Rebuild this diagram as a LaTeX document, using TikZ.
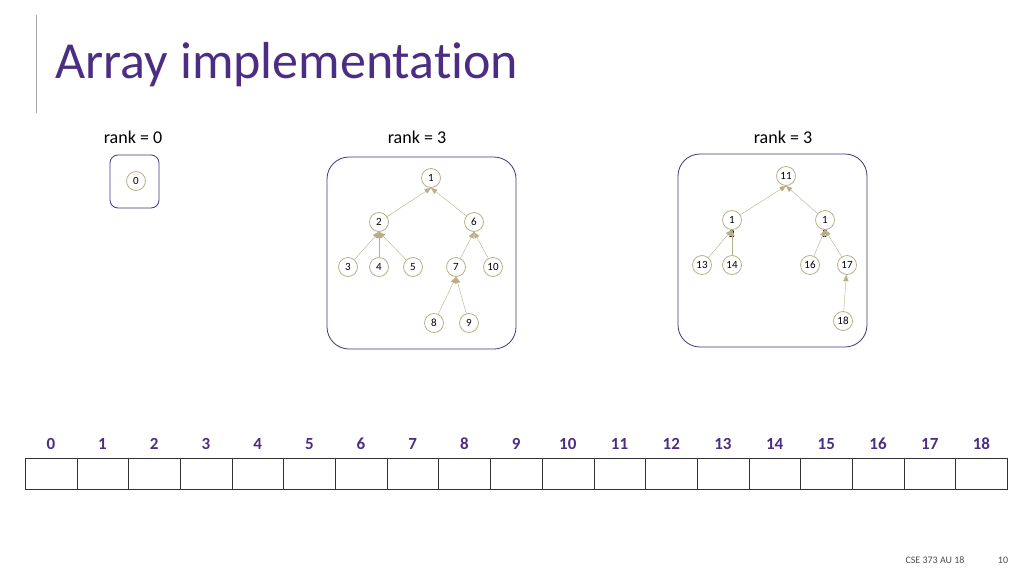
\documentclass[tikz,border=0pt]{standalone}
\usepackage{fontspec}
\setmainfont{Carlito}[RawFeature=-liga]
\usetikzlibrary{arrows}
\definecolor{uwpurple}{HTML}{4B2E83}
\definecolor{boxpurple}{HTML}{3F3580}
\definecolor{khaki}{HTML}{B8AF88}
\tikzstyle{heapnode} = [circle,draw=khaki,thick,minimum size=19pt,inner sep=0pt,font=\fontsize{11}{11}\selectfont]
\tikzstyle{treebox} = [draw=boxpurple,thick,rounded corners=22pt]
\tikzstyle{arrow} = [draw=khaki,->,>=triangle 45]
\tikzstyle{cell} = [draw=black!80,minimum width=51.7pt,minimum height=31pt,inner sep=0pt,outer sep=0pt]
\tikzstyle{idx} = [text=uwpurple,anchor=base,font=\fontsize{17}{17}\selectfont\bfseries]
\begin{document}
\begin{tikzpicture}[x=1pt,y=-1pt]
\useasboundingbox (0,0) rectangle (1024,576);
\draw[gray!70,thick] (36,15) -- (36,113);
\node[anchor=base west,text=uwpurple,font=\fontsize{52}{52}\selectfont] (title) at (52,78) {Array implementation};

\node (r0) at (133,137) {\fontsize{18}{18}\selectfont rank = 0};
\node (r1) at (417,137) {\fontsize{18}{18}\selectfont rank = 3};
\node (r2) at (783,137) {\fontsize{18}{18}\selectfont rank = 3};

\draw[treebox,rounded corners=8pt] (110,155) rectangle (159,208);
\draw[treebox] (327,157) rectangle (516,349);
\draw[treebox] (678,154) rectangle (867,347);

\node (n0) [heapnode] at (136,181) {0};

% rank 3, first tree
\node (n1) [heapnode] at (431,178) {1};
\node (n2) [heapnode] at (379,222) {2};
\node (n6) [heapnode] at (474,222) {6};
\node (n3) [heapnode] at (348,267) {3};
\node (n4) [heapnode] at (379,267) {4};
\node (n5) [heapnode] at (413,267) {5};
\node (n7) [heapnode] at (456,267) {7};
\node (n10) [heapnode] at (493,267) {10};
\node (n8) [heapnode] at (434,323) {8};
\node (n9) [heapnode] at (469,323) {9};

\draw [arrow] (n2) -- (n1.south);
\draw [arrow] (n6) -- (n1.south);
\draw [arrow] (n3) -- (n2.south);
\draw [arrow] (n4) -- (n2.south);
\draw [arrow] (n5) -- (n2.south);
\draw [arrow] (n7) -- (n6.south);
\draw [arrow] (n10) -- (n6.south);
\draw [arrow] (n8) -- (n7.south);
\draw [arrow] (n9) -- (n7.south);

% rank 3, second tree
\node (n11) [heapnode] at (786,176) {11};
\node (n12) [heapnode] at (732,220) {1};
\node[font=\fontsize{11}{11}\selectfont] (n12b) at (732,234) {2};
\node (n15) [heapnode] at (825,220) {1};
\node[font=\fontsize{11}{11}\selectfont] (n15b) at (825,234) {5};
\node (n13) [heapnode] at (702,265) {13};
\node (n14) [heapnode] at (732,265) {14};
\node (n16) [heapnode] at (810,265) {16};
\node (n17) [heapnode] at (847,265) {17};
\node (n18) [heapnode] at (843,321) {18};

\draw [arrow] (n12) -- (n11.south);
\draw [arrow] (n15) -- (n11.south);
\draw [arrow] (n13) -- (n12.south);
\draw [arrow] (n14) -- (n12.south);
\draw [arrow] (n16) -- (n15.south);
\draw [arrow] (n17) -- (n15.south);
\draw [arrow] (n18) -- (n17);

% array
\foreach \i in {0,...,18} {
  \node (c\i) [cell] at (25+25.85+51.7*\i,474) {};
  \node (l\i) [idx] at (25+25.85+51.7*\i,449) {\i};
}

\node[font=\fontsize{10}{10}\selectfont,text=black!70] (course) at (935,560) {CSE 373 AU 18};
\node[font=\fontsize{10}{10}\selectfont,text=black!70] (page) at (1003,560) {10};
\end{tikzpicture}
\end{document}
